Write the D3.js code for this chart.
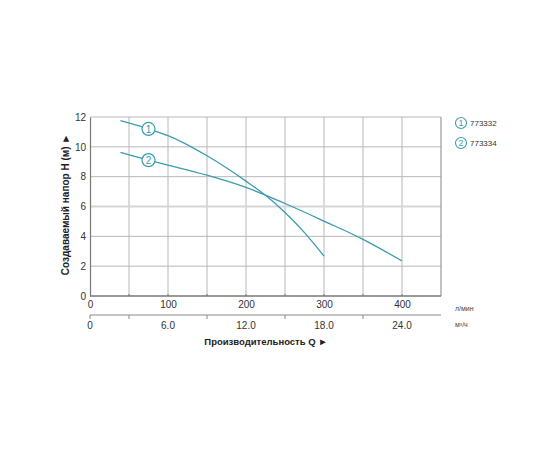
<!DOCTYPE html>
<html>
<head>
<meta charset="utf-8">
<script src="https://cdn.jsdelivr.net/npm/d3@7"></script>
<style>
  body { margin: 0; background: #fff; }
  svg text { font-family: "Liberation Sans", Arial, sans-serif; }
</style>
</head>
<body>
<div id="chart"></div>
<script>
// Pump curves: flow Q (l/min) vs head H (m)
const models = ["773332", "773334"];
const labels = ["1", "2"];
const curve1Q = [39, 75, 100, 150, 200, 225, 250, 275, 300];
const curve1H = [11.75, 11.2, 10.75, 9.4, 7.7, 6.75, 5.6, 4.25, 2.67];
const curve2Q = [39, 75, 100, 150, 200, 250, 300, 350, 400];
const curve2H = [9.63, 9.11, 8.78, 8.1, 7.28, 6.2, 5.02, 3.8, 2.35];
const labelQ = 75;

const yTicks = [0, 2, 4, 6, 8, 10, 12];
const xGrid = [50, 100, 150, 200, 250, 300, 350, 400];
const xTicksLmin = [0, 100, 200, 300, 400];
const xTicksM3h = [0, 6.0, 12.0, 18.0, 24.0];
const minorM3h = [0, 3, 9, 15, 21];

const teal = "#3a9dad";

const width = 560, height = 460;
const margin = { top: 117, right: 119, bottom: 164, left: 90 };
const w = width - margin.left - margin.right;
const h = height - margin.top - margin.bottom;

const svg = d3.select("#chart").append("svg")
    .attr("width", width)
    .attr("height", height);

const g = svg.append("g")
    .attr("transform", "translate(" + margin.left + "," + margin.top + ")");

const x = d3.scaleLinear().domain([0, 450]).range([0, w]);
const y = d3.scaleLinear().domain([0, 12]).range([h, 0]);
// m3/h axis: 1 m3/h = 100/6 l/min, so 27 m3/h = 450 l/min
const xM3h = d3.scaleLinear().domain([0, 27]).range([x(0), x(450)]);

// ----- grid -----
g.selectAll(".vgrid")
    .data(xGrid)
    .enter().append("line")
    .attr("x1", d => x(d)).attr("x2", d => x(d))
    .attr("y1", 0).attr("y2", h)
    .attr("stroke", "#b8b8b8")
    .attr("stroke-width", 1);

g.selectAll(".hgrid")
    .data(yTicks.filter(d => d > 0))
    .enter().append("line")
    .attr("x1", 0).attr("x2", w)
    .attr("y1", d => y(d)).attr("y2", d => y(d))
    .attr("stroke", d => d === 6 ? "#d6d6d6" : "#b8b8b8")
    .attr("stroke-width", d => d === 6 ? 2 : 1);

// right border
g.append("line")
    .attr("x1", w).attr("x2", w).attr("y1", 0).attr("y2", h)
    .attr("stroke", "#999").attr("stroke-width", 1.2);

// left axis
const yAxis = g.append("g")
    .call(d3.axisLeft(y).tickValues(yTicks).tickSize(0).tickPadding(4));
yAxis.select(".domain").attr("stroke", "#777").attr("stroke-width", 1.2);
yAxis.selectAll("text")
    .style("font-size", "10px")
    .attr("fill", "#333");

// bottom axis (l/min)
const xAxis = g.append("g")
    .attr("transform", "translate(0," + h + ")")
    .call(d3.axisBottom(x).tickValues(xTicksLmin).tickSize(0).tickPadding(5));
xAxis.select(".domain").remove();
xAxis.selectAll("text")
    .style("font-size", "10px")
    .attr("fill", "#333");
g.append("line")
    .attr("x1", 0).attr("x2", w).attr("y1", h).attr("y2", h)
    .attr("stroke", "#777").attr("stroke-width", 1.5);
g.selectAll(".btick")
    .data(xGrid)
    .enter().append("line")
    .attr("x1", d => x(d)).attr("x2", d => x(d))
    .attr("y1", h - 2).attr("y2", h)
    .attr("stroke", "#777");

// second axis (m3/h)
const axis2Y = h + 19;
const x2 = g.append("g")
    .attr("transform", "translate(0," + axis2Y + ")");
x2.append("line")
    .attr("x1", xM3h(0)).attr("x2", xM3h(27))
    .attr("stroke", "#888").attr("stroke-width", 1);
x2.selectAll(".mtick")
    .data(minorM3h)
    .enter().append("line")
    .attr("x1", d => xM3h(d)).attr("x2", d => xM3h(d))
    .attr("y1", 0).attr("y2", 4)
    .attr("stroke", "#888");
x2.selectAll(".mlabel")
    .data(xTicksM3h)
    .enter().append("text")
    .attr("x", d => xM3h(d))
    .attr("y", 14)
    .attr("text-anchor", "middle")
    .style("font-size", "10px")
    .attr("fill", "#333")
    .text(d => d === 0 ? "0" : d.toFixed(1));

// units
g.append("text")
    .attr("x", w + 14).attr("y", h + 15)
    .style("font-size", "7px").attr("fill", "#444")
    .text("л/мин");
g.append("text")
    .attr("x", w + 14).attr("y", axis2Y + 12)
    .style("font-size", "7px").attr("fill", "#444")
    .text("м³/ч");

// axis titles
g.append("text")
    .attr("x", 176)
    .attr("y", axis2Y + 30)
    .attr("text-anchor", "middle")
    .style("font-size", "9.5px")
    .style("font-weight", "bold")
    .attr("fill", "#222")
    .text("Производительность Q ►");

g.append("text")
    .attr("transform", "rotate(-90)")
    .attr("x", -h / 2 + 2)
    .attr("y", -21)
    .attr("text-anchor", "middle")
    .style("font-size", "10px")
    .style("font-weight", "bold")
    .attr("fill", "#222")
    .text("Создаваемый напор H (м) ►");

// ----- curves -----
const line = d3.line()
    .x(d => x(d[0]))
    .y(d => y(d[1]))
    .curve(d3.curveMonotoneX);

const curves = [
    d3.zip(curve1Q, curve1H),
    d3.zip(curve2Q, curve2H)
];

g.selectAll(".curve")
    .data(curves)
    .enter().append("path")
    .attr("d", line)
    .attr("fill", "none")
    .attr("stroke", teal)
    .attr("stroke-width", 1.3);

// circle labels on curves
curves.forEach((c, i) => {
    const pt = c.find(p => p[0] === labelQ);
    const lg = g.append("g")
        .attr("transform", "translate(" + x(pt[0]) + "," + y(pt[1]) + ")");
    lg.append("circle")
        .attr("r", 6.5)
        .attr("fill", "#fff")
        .attr("stroke", teal)
        .attr("stroke-width", 1.2);
    lg.append("text")
        .attr("text-anchor", "middle")
        .attr("dy", "0.36em")
        .style("font-size", "10px")
        .attr("fill", teal)
        .text(labels[i]);
});

// legend
const legend = svg.selectAll(".legend")
    .data(models)
    .enter().append("g")
    .attr("transform", (d, i) => "translate(461," + (123 + i * 20) + ")");
legend.append("circle")
    .attr("r", 5.5)
    .attr("fill", "#fff")
    .attr("stroke", teal)
    .attr("stroke-width", 1.1);
legend.append("text")
    .attr("text-anchor", "middle")
    .attr("dy", "0.36em")
    .style("font-size", "9px")
    .attr("fill", teal)
    .text((d, i) => labels[i]);
legend.append("text")
    .attr("x", 9)
    .attr("dy", "0.36em")
    .style("font-size", "8px")
    .attr("fill", "#333")
    .text(d => d);
</script>
</body>
</html>
